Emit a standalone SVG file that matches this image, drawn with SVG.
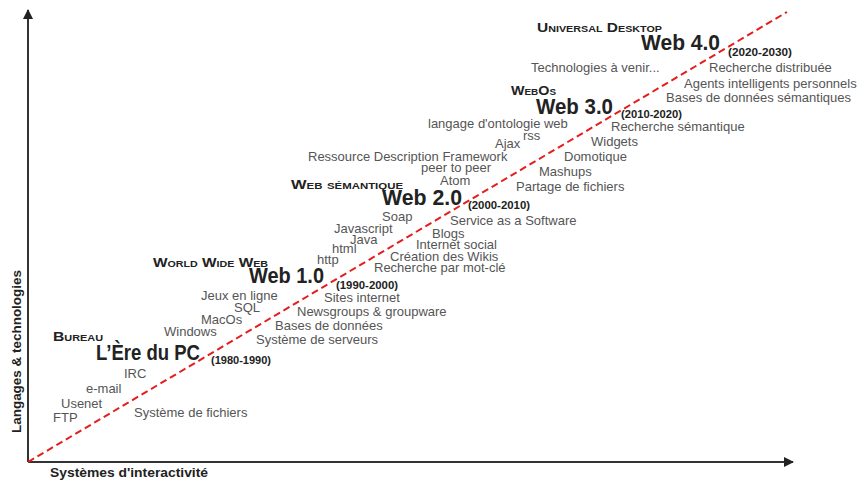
<svg xmlns="http://www.w3.org/2000/svg" width="864" height="483" viewBox="0 0 864 483">
  <style>
    .t { font-family: "Liberation Sans", Arial, sans-serif; font-size: 13px; fill: #555; }
    .h { font-family: "Liberation Sans", Arial, sans-serif; font-size: 13px; font-weight: 700; font-variant: small-caps; fill: #222; }
    .big { font-family: "Liberation Sans", Arial, sans-serif; font-size: 22px; font-weight: 700; fill: #222; }
    .yr { font-family: "Liberation Sans", Arial, sans-serif; font-size: 10px; font-weight: 700; fill: #222; }
    .ax { font-family: "Liberation Sans", Arial, sans-serif; font-size: 13px; font-weight: 700; fill: #222; }
  </style>
  <defs>
    <marker id="arrow" viewBox="0 0 10 10" refX="9" refY="5" markerWidth="5" markerHeight="5" orient="auto" markerUnits="strokeWidth">
      <path d="M0,0 L10,5 L0,10 z" fill="#222"/>
    </marker>
  </defs>

  <rect width="864" height="483" fill="#fff"/>

  <!-- axes and trend line -->
  <g id="connectors">
    <path d="M28,462 L793,462" stroke="#333" stroke-width="2" fill="none" marker-end="url(#arrow)"/>
    <path d="M28,462 L28,10" stroke="#333" stroke-width="2" fill="none" marker-end="url(#arrow)"/>
    <path d="M28,462 L787,12" stroke="#e41e1e" stroke-width="2" stroke-dasharray="7 4" fill="none"/>
  </g>

  <!-- axis labels -->
  <g id="axis-labels">
    <text class="ax" x="50" y="477" textLength="158" lengthAdjust="spacingAndGlyphs">Systèmes d'interactivité</text>
    <text class="ax" transform="translate(21,433) rotate(-90)" x="0" y="0" textLength="163" lengthAdjust="spacingAndGlyphs">Langages &amp; technologies</text>
  </g>

  <!-- 1980-1990 -->
  <g id="era-pc">
    <text class="h" x="53" y="341" textLength="50" lengthAdjust="spacingAndGlyphs">Bureau</text>
    <text class="big" x="96" y="360" textLength="104" lengthAdjust="spacingAndGlyphs">L’Ère du PC</text>
    <text class="yr" x="211" y="364" textLength="60" lengthAdjust="spacingAndGlyphs">(1980-1990)</text>
    <text class="t" x="124" y="378">IRC</text>
    <text class="t" x="86" y="393">e-mail</text>
    <text class="t" x="61" y="408">Usenet</text>
    <text class="t" x="53" y="422">FTP</text>
    <text class="t" x="134" y="417">Système de fichiers</text>
  </g>

  <!-- 1990-2000 -->
  <g id="era-web1">
    <text class="h" x="153" y="267" textLength="115" lengthAdjust="spacingAndGlyphs">World Wide Web</text>
    <text class="big" x="249" y="283" textLength="75" lengthAdjust="spacingAndGlyphs">Web 1.0</text>
    <text class="yr" x="336" y="289" textLength="62" lengthAdjust="spacingAndGlyphs">(1990-2000)</text>
    <text class="t" x="201" y="300">Jeux en ligne</text>
    <text class="t" x="234" y="312">SQL</text>
    <text class="t" x="201" y="324">MacOs</text>
    <text class="t" x="164" y="336">Windows</text>
    <text class="t" x="324" y="302">Sites internet</text>
    <text class="t" x="297" y="316">Newsgroups &amp; groupware</text>
    <text class="t" x="275" y="330">Bases de données</text>
    <text class="t" x="256" y="344">Système de serveurs</text>
  </g>

  <!-- 2000-2010 -->
  <g id="era-web2">
    <text class="h" x="291" y="189" textLength="112" lengthAdjust="spacingAndGlyphs">Web sémantique</text>
    <text class="big" x="382" y="205" textLength="80" lengthAdjust="spacingAndGlyphs">Web 2.0</text>
    <text class="yr" x="468" y="209" textLength="62" lengthAdjust="spacingAndGlyphs">(2000-2010)</text>
    <text class="t" x="382" y="221">Soap</text>
    <text class="t" x="334" y="233">Javascript</text>
    <text class="t" x="350" y="244">Java</text>
    <text class="t" x="332" y="253">html</text>
    <text class="t" x="317" y="264">http</text>
    <text class="t" x="450" y="225">Service as a Software</text>
    <text class="t" x="432" y="238">Blogs</text>
    <text class="t" x="416" y="249">Internet social</text>
    <text class="t" x="390" y="261">Création des Wikis</text>
    <text class="t" x="374" y="272">Recherche par mot-clé</text>
  </g>

  <!-- 2010-2020 -->
  <g id="era-web3">
    <text class="h" x="511" y="95" textLength="45" lengthAdjust="spacingAndGlyphs">WebOs</text>
    <text class="big" x="536" y="114" textLength="77" lengthAdjust="spacingAndGlyphs">Web 3.0</text>
    <text class="yr" x="621" y="118" textLength="61" lengthAdjust="spacingAndGlyphs">(2010-2020)</text>
    <text class="t" x="428" y="128">langage d'ontologie web</text>
    <text class="t" x="523" y="140">rss</text>
    <text class="t" x="495" y="148">Ajax</text>
    <text class="t" x="308" y="161">Ressource Description Framework</text>
    <text class="t" x="421" y="172">peer to peer</text>
    <text class="t" x="440" y="185">Atom</text>
    <text class="t" x="611" y="131">Recherche sémantique</text>
    <text class="t" x="591" y="146">Widgets</text>
    <text class="t" x="564" y="161">Domotique</text>
    <text class="t" x="539" y="176">Mashups</text>
    <text class="t" x="516" y="191">Partage de fichiers</text>
  </g>

  <!-- 2020-2030 -->
  <g id="era-web4">
    <text class="h" x="537" y="32" textLength="125" lengthAdjust="spacingAndGlyphs">Universal Desktop</text>
    <text class="big" x="641" y="50" textLength="79" lengthAdjust="spacingAndGlyphs">Web 4.0</text>
    <text class="yr" x="728" y="56" textLength="64" lengthAdjust="spacingAndGlyphs">(2020-2030)</text>
    <text class="t" x="531" y="72">Technologies à venir...</text>
    <text class="t" x="709" y="72">Recherche distribuée</text>
    <text class="t" x="684" y="88">Agents intelligents personnels</text>
    <text class="t" x="666" y="102">Bases de données sémantiques</text>
  </g>
</svg>
